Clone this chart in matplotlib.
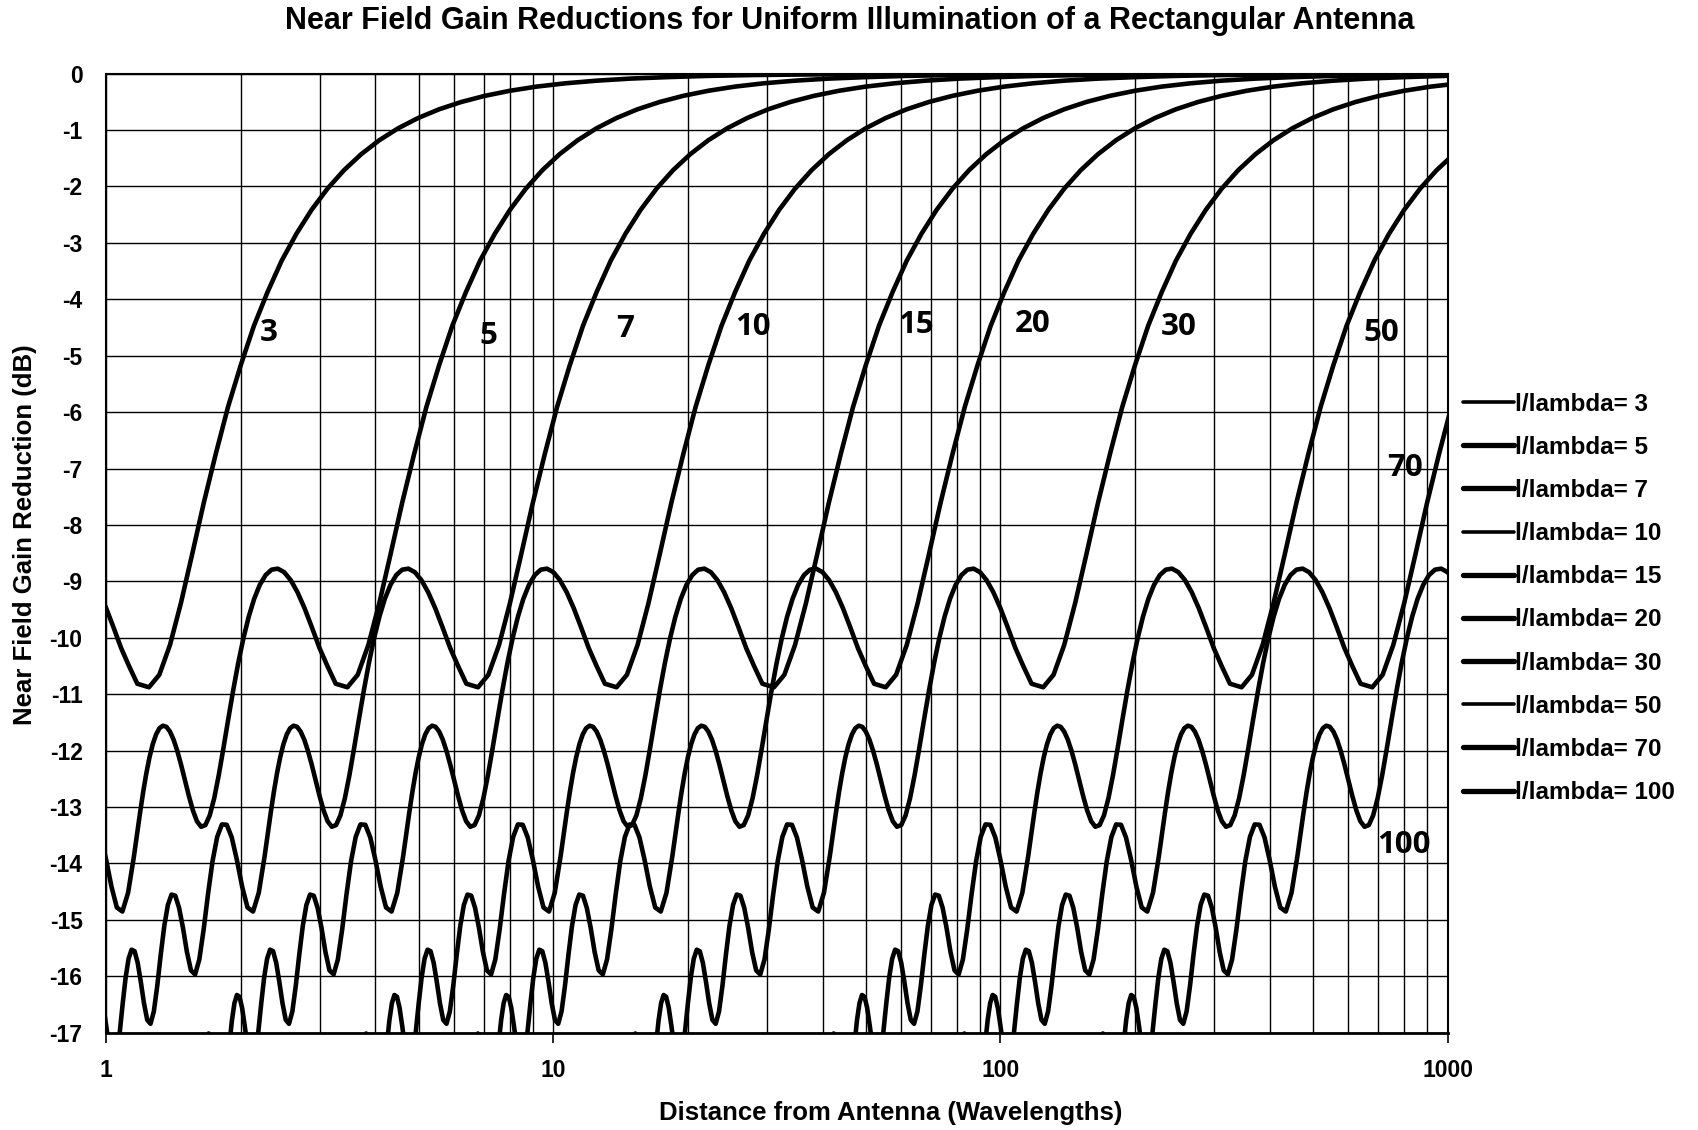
import numpy as np
import matplotlib
matplotlib.use("Agg")
import matplotlib.pyplot as plt
from matplotlib.lines import Line2D

plt.rcParams['axes.unicode_minus'] = False

# Aperture sizes (l / lambda) of the ten curves
l_over_lambda = [3, 5, 7, 10, 15, 20, 30, 50, 70, 100]

# Common curve shape: distance / (l/lambda)^2  vs  gain reduction (dB)
dist_per_l2 = [200, 50, 22.22, 12.5, 8.0, 5.556, 4.0816, 3.125, 2.4691, 2.0, 1.6529, 1.389, 1.18343,
               1.0204, 0.88889, 0.78125, 0.69204, 0.61728, 0.55402, 0.5, 0.45351, 0.41322, 0.37807,
               0.34722, 0.32, 0.29586, 0.27435, 0.2551, 0.23781, 0.22222, 0.20812, 0.19531, 0.18365,
               0.17301, 0.16327, 0.15432, 0.14609, 0.1385, 0.13043, 0.125, 0.12, 0.11538,
               0.11111, 0.10714, 0.10345, 0.1, 0.096774, 0.09375, 0.090909, 0.088235, 0.085714,
               0.083333, 0.081081, 0.078947, 0.076923, 0.075, 0.073171, 0.071429, 0.069767,
               0.068182, 0.066667, 0.065217, 0.06383, 0.0625, 0.061224, 0.06, 0.058824, 0.057692,
               0.056604, 0.055556, 0.054545, 0.053571, 0.052632, 0.051724, 0.050847, 0.05,
               0.04918, 0.048387, 0.047619,
               0.046154, 0.044776, 0.043478, 0.042254, 0.041096, 0.04, 0.038961, 0.037975, 0.037037, 0.036145,
               0.035294, 0.034483, 0.033708, 0.032967, 0.032258, 0.031579, 0.030928, 0.030303, 0.029703, 0.029126,
               0.028571, 0.028037, 0.027523, 0.027027, 0.026549, 0.026087, 0.025641, 0.02521, 0.024793, 0.02439,
               0.024, 0.023622, 0.023256, 0.022901, 0.022556, 0.022222, 0.021898, 0.021583, 0.021277, 0.020979,
               0.02069, 0.020408, 0.020134, 0.019868, 0.019608, 0.019355, 0.019108, 0.018868, 0.018634, 0.018405,
               0.018182, 0.017964, 0.017751, 0.017544, 0.017341, 0.017143, 0.016949, 0.01676, 0.016575, 0.016393,
               0.016216]
gain_db = [0.0, -0.0001, -0.0005, -0.0015, -0.0037, -0.0077, -0.0143, -0.024, -0.0391, -0.061, -0.0873,
           -0.124, -0.1705,
           -0.229, -0.3029, -0.393, -0.5013, -0.631, -0.7856, -0.967, -1.1796, -1.427, -1.7114,
           -2.039, -2.4135, -2.840, -3.3145, -3.870, -4.4687, -5.166, -5.9059, -6.744, -7.6088,
           -8.519, -9.3854, -10.128, -10.656, -10.878, -10.815, -10.503, -10.183, -9.816,
           -9.477, -9.193, -8.978, -8.837, -8.775, -8.793, -8.889, -9.062, -9.309,
           -9.628, -10.011, -10.450, -10.934, -11.444, -11.954, -12.434, -12.845,
           -13.149, -13.321, -13.351, -13.253, -13.058, -12.802, -12.524, -12.251, -12.008,
           -11.808, -11.664, -11.579, -11.559, -11.603, -11.713, -11.886, -12.118,
           -12.405, -12.737, -13.104,
           -13.870, -14.521, -14.854, -14.782, -14.409, -13.937, -13.540, -13.316, -13.309, -13.531,
           -13.960, -14.542, -15.175, -15.705, -15.968, -15.897, -15.570, -15.140, -14.787, -14.573,
           -14.553, -14.738, -15.111, -15.620, -16.169, -16.623, -16.844, -16.775, -16.480, -16.099,
           -15.762, -15.557, -15.530, -15.692, -16.025, -16.482, -16.973, -17.374, -17.568, -17.501,
           -17.229, -16.877, -16.560, -16.365, -16.333, -16.479, -16.783, -17.200, -17.648, -18.011,
           -18.183, -18.119, -17.866, -17.536, -17.238, -17.051, -17.016, -17.149, -17.430, -17.817,
           -18.230]

# In-plot curve labels
label_text = ["3", "5", "7", "10", "15", "20", "30", "50", "70", "100"]
label_x = [2.31, 7.17, 14.5, 28.0, 64.6, 118, 251, 711, 804, 800]
label_y = [-4.59, -4.65, -4.53, -4.49, -4.46, -4.44, -4.49, -4.59, -6.99, -13.68]

y_ticks = list(range(0, -18, -1))
x_ticks = [1, 10, 100, 1000]

legend_lw = [2.6, 3.8, 3.8, 2.6, 3.8, 3.8, 3.8, 2.6, 3.8, 3.8]

fig = plt.figure(figsize=(16.99, 11.30), dpi=100)
ax = fig.add_axes([0.0625, 0.0862, 0.852 - 0.0625, 0.9348 - 0.0862])

d = np.array(dist_per_l2)
g = np.array(gain_db)
handles = []
for L, lw in zip(l_over_lambda, legend_lw):
    ax.plot(d * L ** 2, g, color='black', lw=3.3, solid_capstyle='round',
            solid_joinstyle='round', zorder=3)
    handles.append(Line2D([0], [0], color='black', lw=lw, solid_capstyle='round'))

ax.set_xscale('log')
ax.set_xlim(1, 1000)
ax.set_ylim(-17, 0)
ax.set_yticks(y_ticks)
ax.set_yticklabels([str(v) for v in y_ticks])
ax.set_xticks(x_ticks)
ax.set_xticklabels([str(v) for v in x_ticks])
ax.xaxis.set_minor_locator(matplotlib.ticker.LogLocator(base=10, subs=np.arange(2, 10)))
ax.xaxis.set_minor_formatter(matplotlib.ticker.NullFormatter())
ax.grid(True, which='both', axis='x', color='black', lw=1.0)
ax.grid(True, which='major', axis='y', color='black', lw=1.0)
ax.set_axisbelow(True)
for s in ax.spines.values():
    s.set_color('black')
    s.set_linewidth(1.5)
ax.spines['bottom'].set_linewidth(2.0)
ax.tick_params(axis='y', length=0, pad=17)
ax.tick_params(axis='x', which='major', length=7, width=1.2, direction='out', pad=12)
ax.tick_params(axis='x', which='minor', length=0)
for lab in ax.get_xticklabels() + ax.get_yticklabels():
    lab.set_fontfamily('Liberation Sans')
    lab.set_fontweight('bold')
    lab.set_fontsize(16.5)

for t, xx, yy in zip(label_text, label_x, label_y):
    ax.text(xx, yy, t, fontsize=22.5, fontweight='bold', family='Open Sans',
            ha='center', va='center', zorder=4)

fig.text(0.5, 0.981, "Near Field Gain Reductions for Uniform Illumination of a Rectangular Antenna",
         ha='center', va='center', fontsize=22, fontweight='bold', family='Liberation Sans')
fig.text(0.524, 0.015, "Distance from Antenna (Wavelengths)", ha='center', va='center',
         fontsize=18.5, fontweight='bold', family='Liberation Sans')
fig.text(0.015, 0.527, "Near Field Gain Reduction (dB)", ha='center', va='center', rotation=90,
         fontsize=18.5, fontweight='bold', family='Liberation Sans')

leg = fig.legend(handles, ["l/lambda= %d" % L for L in l_over_lambda],
                 loc='upper left', bbox_to_anchor=(0.848, 0.672), frameon=False,
                 handlelength=2.1, handletextpad=0.05, labelspacing=0.83,
                 prop={'family': 'Liberation Sans', 'weight': 'bold', 'size': 17.5})

fig.savefig("out.png", dpi=100)
